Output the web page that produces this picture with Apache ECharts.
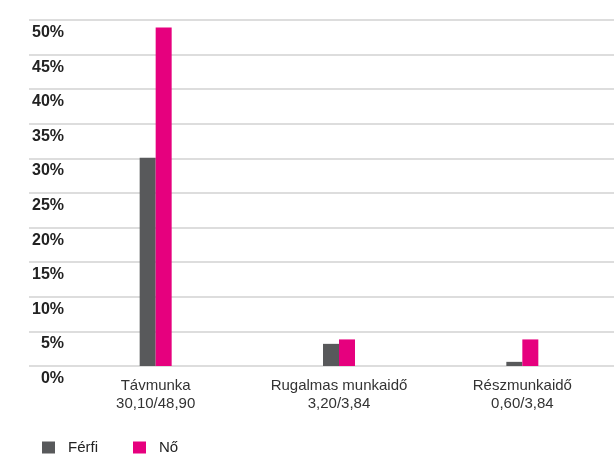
<!DOCTYPE html>
<html>
<head>
<meta charset="utf-8">
<title>Távmunka, rugalmas munkaidő, részmunkaidő</title>
<script src="https://cdn.jsdelivr.net/npm/echarts@6/dist/echarts.min.js"></script>
<style>
  html, body { margin: 0; padding: 0; background: #ffffff; }
  #chart { width: 614px; height: 463px; }
</style>
</head>
<body>
<div id="chart"></div>
<script>
// Munkavégzési formák, nemenként (%)
const categories = ['Távmunka', 'Rugalmas munkaidő', 'Részmunkaidő'];
const ferfi = [30.10, 3.20, 0.60];
const no = [48.90, 3.84, 3.84];
const seriesNames = ['Férfi', 'Nő'];
const yTicks = { min: 0, max: 50, step: 5 };

const GREY = '#58595b';
const MAGENTA = '#e6007e';
const FONT = '"Liberation Sans", Arial, sans-serif';

// "30,10/48,90" style second line, built from the bar values
const fmt = v => v.toFixed(2).replace('.', ',');
const catLabels = categories.map((c, i) => c + '\n' + fmt(ferfi[i]) + '/' + fmt(no[i]));

const chart = echarts.init(document.getElementById('chart'), null, { renderer: 'canvas' });

chart.setOption({
  backgroundColor: '#ffffff',
  animation: false,
  textStyle: { fontFamily: FONT },
  legend: {
    data: seriesNames,
    left: 37,
    top: 435,
    icon: 'rect',
    itemWidth: 13,
    itemHeight: 12,
    itemGap: 35,
    textStyle: { fontFamily: FONT, fontSize: 15, color: '#222', padding: [0, 0, 0, 8] }
  },
  grid: [
    // gridlines and percentage labels
    { left: 29, right: 0, top: 20, bottom: 97 },
    // bars and category labels
    { left: 64, width: 552, top: 20, bottom: 97 }
  ],
  xAxis: [
    { type: 'category', gridIndex: 0, data: categories, show: false },
    {
      type: 'category',
      gridIndex: 1,
      data: catLabels,
      boundaryGap: true,
      axisLine: { show: false },
      axisTick: { show: false },
      axisLabel: {
        margin: 11,
        fontFamily: FONT,
        fontSize: 15,
        lineHeight: 18,
        color: '#333',
        interval: 0
      }
    }
  ],
  yAxis: [
    {
      type: 'value',
      gridIndex: 0,
      min: yTicks.min,
      max: yTicks.max,
      interval: yTicks.step,
      axisLine: { show: false },
      axisTick: { show: false },
      splitLine: { show: true, lineStyle: { color: '#d2d2d2', width: 1.5 } },
      axisLabel: {
        // percentage labels sit just below their gridline
        formatter: v => v + '%',
        align: 'right',
        margin: -35,
        verticalAlign: 'top',
        lineHeight: 25,
        fontFamily: FONT,
        fontSize: 16,
        fontWeight: 'bold',
        color: '#222'
      }
    },
    {
      type: 'value',
      gridIndex: 1,
      min: yTicks.min,
      max: yTicks.max,
      interval: yTicks.step,
      show: false,
      splitLine: { show: false }
    }
  ],
  series: [
    {
      name: seriesNames[0],
      type: 'bar',
      xAxisIndex: 1,
      yAxisIndex: 1,
      data: ferfi,
      barWidth: 16,
      barGap: '0%',
      itemStyle: { color: GREY }
    },
    {
      name: seriesNames[1],
      type: 'bar',
      xAxisIndex: 1,
      yAxisIndex: 1,
      data: no,
      barWidth: 16,
      barGap: '0%',
      itemStyle: { color: MAGENTA }
    }
  ]
});
</script>
</body>
</html>
